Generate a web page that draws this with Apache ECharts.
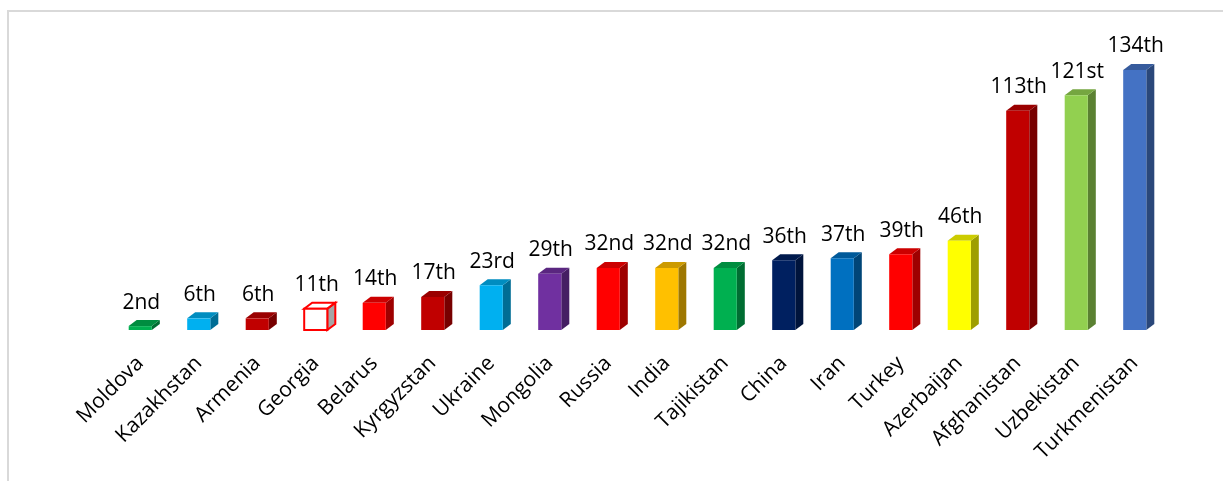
<!DOCTYPE html>
<html>
<head>
<meta charset="utf-8">
<script src="https://cdn.jsdelivr.net/npm/echarts@6/dist/echarts.min.js"></script>
<style>
  html, body { margin: 0; padding: 0; background: #ffffff; }
  #chart { width: 1223px; height: 481px; }
</style>
</head>
<body>
<div id="chart"></div>
<script>
// Countries and their ranks
const countries = ['Moldova', 'Kazakhstan', 'Armenia', 'Georgia', 'Belarus', 'Kyrgyzstan',
  'Ukraine', 'Mongolia', 'Russia', 'India', 'Tajikistan', 'China', 'Iran', 'Turkey',
  'Azerbaijan', 'Afghanistan', 'Uzbekistan', 'Turkmenistan'];
const ranks = [2, 6, 6, 11, 14, 17, 23, 29, 32, 32, 32, 36, 37, 39, 46, 113, 121, 134];
const barColors = ['#00B050', '#00B0F0', '#C00000', '#FFFFFF', '#FF0000', '#C00000',
  '#00B0F0', '#7030A0', '#FF0000', '#FFC000', '#00B050', '#002060', '#0070C0', '#FF0000',
  '#FFFF00', '#C00000', '#92D050', '#4472C4'];
const outlinedIndex = 3; // Georgia: hollow box with red outline

function ordinal(n) {
  const m100 = n % 100, m10 = n % 10;
  if (m100 >= 11 && m100 <= 13) return n + 'th';
  if (m10 === 1) return n + 'st';
  if (m10 === 2) return n + 'nd';
  if (m10 === 3) return n + 'rd';
  return n + 'th';
}

function shade(hex, f) {
  const c = hex.replace('#', '');
  const r = Math.round(parseInt(c.substr(0, 2), 16) * f);
  const g = Math.round(parseInt(c.substr(2, 2), 16) * f);
  const b = Math.round(parseInt(c.substr(4, 2), 16) * f);
  return 'rgb(' + r + ',' + g + ',' + b + ')';
}

const FONT = '"Open Sans", "Noto Sans", sans-serif';
const chart = echarts.init(document.getElementById('chart'));

function renderBox(params, api) {
  const idx = api.value(0);
  const val = api.value(1);
  const top = api.coord([idx, val]);
  const base = api.coord([idx, 0]);
  const band = api.size([1, 0])[0];
  const w = band * 0.395;
  const dx = 8, dy = 6;
  const x0 = top[0] - w / 2, x1 = top[0] + w / 2;
  const yT = top[1], yB = base[1];
  const col = barColors[idx];
  const hollow = idx === outlinedIndex;
  const frontStyle = hollow ? { fill: '#ffffff', stroke: '#FF0000', lineWidth: 2 } : { fill: col };
  const topStyle = hollow ? { fill: '#ffffff', stroke: '#FF0000', lineWidth: 2 } : { fill: shade(col, 0.8) };
  const sideStyle = hollow ? { fill: '#A6A6A6', stroke: '#FF0000', lineWidth: 2 } : { fill: shade(col, 0.62) };
  return {
    type: 'group',
    children: [
      { type: 'polygon', shape: { points: [[x1, yB], [x1 + dx, yB - dy], [x1 + dx, yT - dy], [x1, yT]] }, style: sideStyle },
      { type: 'polygon', shape: { points: [[x0, yT], [x1, yT], [x1 + dx, yT - dy], [x0 + dx, yT - dy]] }, style: topStyle },
      { type: 'rect', shape: { x: x0, y: yT, width: w, height: yB - yT }, style: frontStyle },
      { type: 'text', x: top[0] + 1, y: yT - dy - 7,
        style: { text: ordinal(val), fill: '#000000', font: '21px ' + FONT, align: 'center', verticalAlign: 'bottom' } }
    ]
  };
}

chart.setOption({
  animation: false,
  graphic: [{
    type: 'rect', silent: true,
    shape: { x: 8, y: 11, width: 1400, height: 700 },
    style: { fill: 'none', stroke: '#D9D9D9', lineWidth: 2 }
  }],
  grid: { left: 111, right: 59, top: 70, bottom: 151 },
  xAxis: {
    type: 'category',
    data: countries,
    axisLine: { show: false },
    axisTick: { show: false },
    axisLabel: {
      rotate: 45, interval: 0, margin: 30,
      color: '#000000', fontSize: 21, fontFamily: FONT
    }
  },
  yAxis: {
    type: 'value', min: 0, max: 134, show: false,
    splitLine: { show: false }
  },
  series: [{
    type: 'custom',
    renderItem: renderBox,
    clip: false,
    data: ranks.map((r, i) => [i, r])
  }]
});
</script>
</body>
</html>
